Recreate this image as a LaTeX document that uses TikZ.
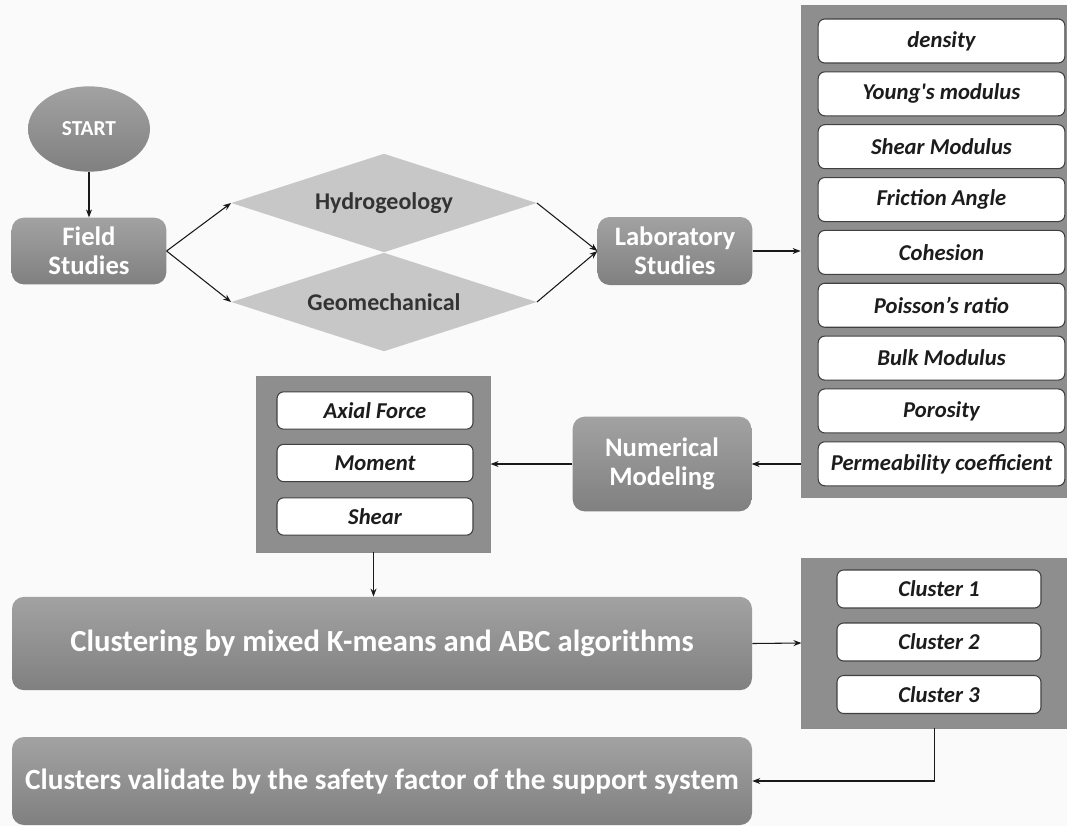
\documentclass[tikz,border=0pt]{standalone}
\usepackage{fontspec}
\setmainfont{Carlito}
\usetikzlibrary{shapes.geometric,arrows.meta}
\definecolor{bg}{HTML}{FAFAFA}
\definecolor{boxtop}{HTML}{A2A2A2}
\definecolor{boxbot}{HTML}{808080}
\definecolor{panelgray}{HTML}{8E8E8E}
\definecolor{diagray}{HTML}{C7C7C7}
\definecolor{ink}{HTML}{1C1C1C}

\begin{document}
\begin{tikzpicture}[x=0.75pt,y=-0.75pt,
  stepbox/.style={rounded corners=9pt,top color=boxtop,bottom color=boxbot,draw=none,
    text=white,font=\bfseries\fontsize{20}{22}\selectfont,align=center,inner sep=0pt},
  decision/.style={diamond,aspect=3,fill=diagray,draw=none,inner sep=0pt,
    text=black!80,font=\bfseries\fontsize{18}{20}\selectfont},
  panel/.style={rectangle,fill=panelgray,draw=black!45,line width=0.6pt,inner sep=0pt},
  item/.style={rectangle,rounded corners=5pt,fill=white,draw=black!75,line width=0.8pt,
    text=ink,font=\bfseries\itshape\fontsize{17}{19}\selectfont,inner sep=0pt},
  arr/.style={-{Stealth[length=6pt,width=4.5pt]},line width=0.8pt,draw=black!90}]
\fill[bg] (0,0) rectangle (1067,826);
\useasboundingbox (0,0) rectangle (1067,826);

\node[ellipse,top color=boxtop,bottom color=boxbot,text=white,minimum width=91.5pt,minimum height=64pt,
  font=\bfseries\fontsize{16}{18}\selectfont] (start) at (89,129) {START};
\node[stepbox,minimum width=116pt,minimum height=50pt] (field) at (89,251) {Field\\Studies};

\node[decision,minimum width=229pt,minimum height=74pt] (hydro) at (384,203) {Hydrogeology};
\node[decision,minimum width=229pt,minimum height=74pt] (geo) at (384,302) {Geomechanical};

\node[stepbox,minimum width=116pt,minimum height=51pt] (lab) at (675,251) {Laboratory\\Studies};

\node[panel,minimum width=199.5pt,minimum height=369pt] (props) at (934,251) {};
\foreach \txt [count=\i from 0] in {density,Young\textquotesingle s modulus,Shear Modulus,Friction Angle,Cohesion,
  Poisson’s ratio,Bulk Modulus,Porosity,Permeability coefficient}
  \node[item,minimum width=185pt,minimum height=33pt] (prop\i) at (941.5,41+\i*52.85) {\txt};

\node[stepbox,minimum width=134pt,minimum height=71pt] (num) at (662,464) {Numerical\\Modeling};

\node[panel,minimum width=175pt,minimum height=132pt] (forces) at (373.5,464) {};
\node[item,minimum width=147pt,minimum height=28pt] (axial) at (375,410.5) {Axial Force};
\node[item,minimum width=147pt,minimum height=28pt] (moment) at (375,463) {Moment};
\node[item,minimum width=147pt,minimum height=28pt] (shear) at (375,516.5) {Shear};

\node[stepbox,minimum width=555pt,minimum height=70pt,font=\bfseries\fontsize{23}{25}\selectfont] (clus) at (382,643.5)
  {Clustering by mixed K-means and ABC algorithms};

\node[panel,minimum width=199pt,minimum height=127.5pt] (groups) at (934.5,643) {};
\node[item,minimum width=153pt,minimum height=28.5pt] (c1) at (939,589) {Cluster 1};
\node[item,minimum width=153pt,minimum height=28.5pt] (c2) at (939,642) {Cluster 2};
\node[item,minimum width=153pt,minimum height=28.5pt] (c3) at (939,694.5) {Cluster 3};

\node[stepbox,minimum width=555pt,minimum height=66pt,font=\bfseries\fontsize{22}{24}\selectfont] (valid) at (382,781)
  {Clusters validate by the safety factor of the support system};

\draw[arr] (start) -- (field);
\draw[arr] (field.east) -- (hydro.west);
\draw[arr] (field.east) -- (geo.west);
\draw[arr] (hydro.east) -- (lab.west);
\draw[arr] (geo.east) -- (lab.west);
\draw[arr] (lab.east) -- (props.west);
\draw[arr] (num.east -| props.west) -- (num.east);
\draw[arr] (num.west) -- (forces.east);
\draw[arr] (forces.south) -- (forces.south |- clus.north);
\draw[arr] (clus.east) -- (groups.west);
\draw[arr] (groups.south) |- (valid.east);
\end{tikzpicture}
\end{document}
